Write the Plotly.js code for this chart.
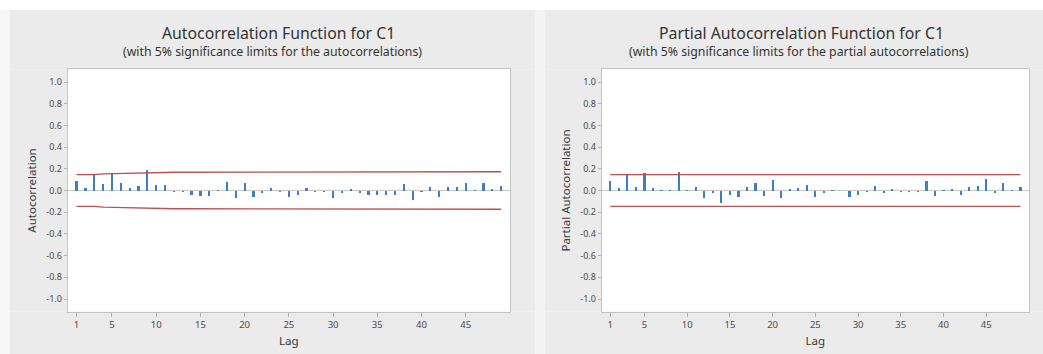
<!DOCTYPE html>
<html>
<head>
<meta charset="utf-8">
<script src="https://cdn.plot.ly/plotly-3.0.1.min.js"></script>
<style>
html,body{margin:0;padding:0;background:#ffffff;}
#chart{width:1043px;height:354px;}
</style>
</head>
<body>
<div id="chart"></div>
<script>
// ---- data ----
const lags = [1,2,3,4,5,6,7,8,9,10,11,12,13,14,15,16,17,18,19,20,21,22,23,24,25,26,27,28,29,30,31,32,33,34,35,36,37,38,39,40,41,42,43,44,45,46,47,48,49];

const acfValues = [0.092,0.025,0.14,0.06,0.16,0.067,0.02,0.043,0.19,0.052,
  0.052,-0.01,-0.01,-0.043,-0.05,-0.05,0.004,0.077,-0.067,0.067,
  -0.058,-0.023,0.025,-0.01,-0.056,-0.045,0.022,-0.015,-0.015,-0.067,
  -0.025,0.012,-0.025,-0.045,-0.04,-0.04,-0.04,0.058,-0.092,-0.01,
  0.034,-0.061,0.034,0.034,0.073,0.004,0.067,0.015,0.043];

const acfUpper = [0.146,0.146,0.146,0.153,0.155,0.161,0.161,0.161,0.161,0.168,
  0.168,0.168,0.168,0.168,0.168,0.168,0.168,0.168,0.168,0.168,
  0.168,0.168,0.168,0.168,0.168,0.168,0.168,0.168,0.168,0.168,
  0.168,0.168,0.168,0.168,0.168,0.168,0.173,0.173,0.173,0.173,
  0.173,0.173,0.173,0.173,0.173,0.173,0.173,0.173,0.173];
const acfLower = [-0.146,-0.146,-0.146,-0.153,-0.155,-0.161,-0.161,-0.161,-0.161,-0.168,
  -0.168,-0.168,-0.168,-0.168,-0.168,-0.168,-0.168,-0.168,-0.168,-0.168,
  -0.168,-0.168,-0.168,-0.168,-0.168,-0.168,-0.168,-0.168,-0.168,-0.168,
  -0.168,-0.168,-0.168,-0.168,-0.168,-0.168,-0.173,-0.173,-0.173,-0.173,
  -0.173,-0.173,-0.173,-0.173,-0.173,-0.173,-0.173,-0.173,-0.173];

const pacfValues = [0.092,0.025,0.14,0.034,0.16,0.025,0.004,0.003,0.175,0.004,
  0.034,-0.067,-0.025,-0.114,-0.043,-0.058,0.034,0.067,-0.05,0.1,
  -0.067,0.015,0.025,0.05,-0.058,-0.025,0.003,-0.003,-0.061,-0.04,
  -0.015,0.04,-0.025,0.015,-0.01,-0.015,-0.015,0.083,-0.05,0.003,
  0.01,-0.045,0.034,0.046,0.11,-0.025,0.067,0.003,0.03];
const pacfLimitLags = [1,49];
const pacfUpper = [0.147,0.147];
const pacfLower = [-0.147,-0.147];

const xTickVals = [1,5,10,15,20,25,30,35,40,45];
const xTickText = ['1','5','10','15','20','25','30','35','40','45'];
const yTickVals = [-1,-0.8,-0.6,-0.4,-0.2,0,0.2,0.4,0.6,0.8,1];
const yTickText = ['-1.0','-0.8','-0.6','-0.4','-0.2','0.0','0.2','0.4','0.6','0.8','1.0'];

const titles = {
  acf: 'Autocorrelation Function for C1',
  acfSub: '(with 5% significance limits for the autocorrelations)',
  pacf: 'Partial Autocorrelation Function for C1',
  pacfSub: '(with 5% significance limits for the partial autocorrelations)'
};

// ---- styling ----
const W = 1043, H = 354;
const FONT = 'Noto Sans, Open Sans, sans-serif';
const barColor = '#3f7ebf';
const limColor = '#c0504d';
const panelColor = '#ebebeb';
const px = v => v / W;
const py = v => 1 - v / H;

const traces = [
  {type:'bar', x:lags, y:acfValues, width:0.25, marker:{color:barColor, line:{width:0}}, xaxis:'x', yaxis:'y', hoverinfo:'x+y'},
  {type:'scatter', mode:'lines', x:lags, y:acfUpper, line:{color:limColor, width:1.3}, xaxis:'x', yaxis:'y'},
  {type:'scatter', mode:'lines', x:lags, y:acfLower, line:{color:limColor, width:1.3}, xaxis:'x', yaxis:'y'},
  {type:'bar', x:lags, y:pacfValues, width:0.25, marker:{color:barColor, line:{width:0}}, xaxis:'x2', yaxis:'y2', hoverinfo:'x+y'},
  {type:'scatter', mode:'lines', x:pacfLimitLags, y:pacfUpper, line:{color:limColor, width:1.3}, xaxis:'x2', yaxis:'y2'},
  {type:'scatter', mode:'lines', x:pacfLimitLags, y:pacfLower, line:{color:limColor, width:1.3}, xaxis:'x2', yaxis:'y2'}
];

// plot-area pixel boxes
const P1 = {l:67.7, r:510, t:69.3, b:311.7};
const P2 = {l:601.7, r:1029, t:69.3, b:311.7};
const yDom = [py(P1.b), py(P1.t)];
const xDom1 = [px(P1.l), px(P1.r)];
const xDom2 = [px(P2.l), px(P2.r)];

function rect(x0, x1, y0, y1, color){
  return {type:'rect', xref:'paper', yref:'paper', x0:px(x0), x1:px(x1), y0:py(y1), y1:py(y0),
    fillcolor:color, line:{width:0}, layer:'below'};
}
// grey panel drawn as a frame round the (white) plot area
function panelFrame(L, R, T, B, P){
  return [
    rect(L, R, T, P.t, panelColor),
    rect(L, R, P.b, B, panelColor),
    rect(L, P.l, P.t, P.b, panelColor),
    rect(P.r, R, P.t, P.b, panelColor)
  ];
}

function xAxis(dom, anchor){
  return {domain:dom, anchor:anchor, range:[0,50], tickmode:'array', tickvals:xTickVals, ticktext:xTickText,
    showgrid:false, zeroline:false, showline:true, mirror:true, linecolor:'#c4c4c4', linewidth:1,
    ticks:'outside', ticklen:4, tickcolor:'#b0b0b0', tickfont:{family:FONT, size:9.5, color:'#4a4a4a'},
    title:{text:'Lag', font:{family:FONT, size:11.5, color:'#3a3a3a'}, standoff:6}};
}
function yAxis(anchor, title){
  return {domain:yDom, anchor:anchor, range:[-1.117,1.117], tickmode:'array', tickvals:yTickVals, ticktext:yTickText,
    showgrid:false, zeroline:true, zerolinecolor:'#c8c8c8', zerolinewidth:1.5,
    showline:true, mirror:true, linecolor:'#c4c4c4', linewidth:1,
    ticks:'outside', ticklen:3, tickcolor:'#b0b0b0', tickfont:{family:FONT, size:9, color:'#4a4a4a'},
    title:{text:title, font:{family:FONT, size:11.5, color:'#3a3a3a'}, standoff:7}};
}

const layout = {
  width:W, height:H, autosize:false,
  margin:{l:0,r:0,t:0,b:0,pad:0},
  paper_bgcolor:'#ffffff', plot_bgcolor:'#ffffff',
  showlegend:false, bargap:0,
  xaxis: xAxis(xDom1, 'y'),
  yaxis: yAxis('x', 'Autocorrelation'),
  xaxis2: xAxis(xDom2, 'y2'),
  yaxis2: yAxis('x2', 'Partial Autocorrelation'),
  shapes: [
    rect(0, 10, 10, 354, '#f6f6f6'),
    rect(535, 545, 10, 354, '#f4f4f4'),
    ...panelFrame(10, 535, 10, 354, P1),
    ...panelFrame(545, 1043, 10, 354, P2)
  ],
  annotations:[
    {text:titles.acf, xref:'paper', yref:'paper', x:px(278), y:py(33), xanchor:'center', yanchor:'middle', showarrow:false, font:{family:FONT, size:15.8, color:'#333333'}},
    {text:titles.acfSub, xref:'paper', yref:'paper', x:px(272), y:py(51.5), xanchor:'center', yanchor:'middle', showarrow:false, font:{family:FONT, size:12.3, color:'#333333'}},
    {text:titles.pacf, xref:'paper', yref:'paper', x:px(801.5), y:py(33), xanchor:'center', yanchor:'middle', showarrow:false, font:{family:FONT, size:15.8, color:'#333333'}},
    {text:titles.pacfSub, xref:'paper', yref:'paper', x:px(799), y:py(51.5), xanchor:'center', yanchor:'middle', showarrow:false, font:{family:FONT, size:12.3, color:'#333333'}}
  ]
};

Plotly.newPlot('chart', traces, layout, {displayModeBar:false, staticPlot:true});
</script>
</body>
</html>
